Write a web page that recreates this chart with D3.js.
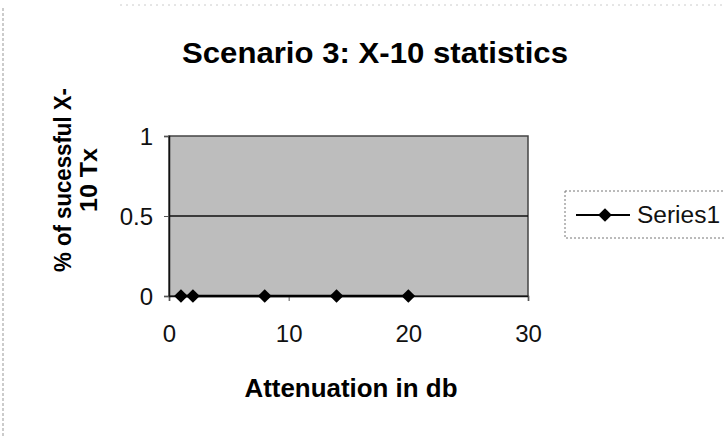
<!DOCTYPE html>
<html>
<head>
<meta charset="utf-8">
<script src="https://cdn.jsdelivr.net/npm/d3@7"></script>
<style>
  body { margin: 0; background: #fff; }
  text { font-family: "Liberation Sans", Arial, sans-serif; }
</style>
</head>
<body>
<div id="chart"></div>
<script>
// chart values
let attenuation = [1, 2, 8, 14, 20];
let success = [0, 0, 0, 0, 0];
let xTicks = [0, 10, 20, 30];
let yTicks = [0, 0.5, 1];
let seriesName = "Series1";

let svgWidth = 725;
let svgHeight = 437;

let margin = { top: 136, right: 197, bottom: 141, left: 169 };
let width = svgWidth - margin.left - margin.right;
let height = svgHeight - margin.top - margin.bottom;

let svg = d3.select("#chart")
    .append("svg")
    .attr("width", svgWidth)
    .attr("height", svgHeight);

// faint scanned frame lines
svg.append("line")
    .attr("x1", 3).attr("x2", 3).attr("y1", 8).attr("y2", svgHeight)
    .attr("stroke", "#999").attr("stroke-dasharray", "3,2");
svg.append("line")
    .attr("x1", 120).attr("x2", svgWidth).attr("y1", 5).attr("y2", 5)
    .attr("stroke", "#ccc").attr("stroke-dasharray", "2,4");

let chartGroup = svg.append("g")
    .attr("transform", `translate(${margin.left}, ${margin.top})`);

let x = d3.scaleLinear().domain([0, 30]).range([0, width]);
let y = d3.scaleLinear().domain([0, 1]).range([height, 0]);

// plot area
chartGroup.append("rect")
    .attr("width", width)
    .attr("height", height)
    .attr("fill", "#bdbdbd")
    .attr("stroke", "#444")
    .attr("stroke-width", 1.5);

// gridline at 0.5
chartGroup.append("line")
    .attr("x1", 0).attr("x2", width)
    .attr("y1", y(0.5)).attr("y2", y(0.5))
    .attr("stroke", "#111").attr("stroke-width", 1.3);

// axes
let bottomAxis = d3.axisBottom(x).tickValues(xTicks).tickSize(5).tickPadding(24);
let leftAxis = d3.axisLeft(y).tickValues(yTicks).tickSize(5).tickPadding(11)
    .tickFormat(d => d);

let xg = chartGroup.append("g")
    .attr("transform", `translate(0, ${height})`)
    .call(bottomAxis);
let yg = chartGroup.append("g").call(leftAxis);

[xg, yg].forEach(g => {
    g.select(".domain").attr("stroke", "#111").attr("stroke-width", 1.5);
    g.selectAll(".tick line").attr("stroke", "#555");
    g.selectAll(".tick text")
        .attr("font-size", 24)
        .attr("fill", "#111")
        .style("font-family", "'Liberation Sans', Arial, sans-serif");
});
yg.selectAll(".tick text").attr("dy", "0.35em");

// series line + markers
let points = attenuation.map((a, i) => ({ x: a, y: success[i] }));

chartGroup.append("path")
    .datum(points)
    .attr("fill", "none")
    .attr("stroke", "#000")
    .attr("stroke-width", 2.5)
    .attr("d", d3.line().x(d => x(d.x)).y(d => y(d.y)));

let diamond = d3.symbol().type(d3.symbolDiamond2).size(120);

chartGroup.selectAll(".pt")
    .data(points)
    .enter()
    .append("path")
    .attr("class", "pt")
    .attr("transform", d => `translate(${x(d.x)}, ${y(d.y)})`)
    .attr("d", diamond)
    .attr("fill", "#000");

// title
svg.append("text")
    .attr("x", 375).attr("y", 63)
    .attr("text-anchor", "middle")
    .attr("font-size", 30)
    .attr("font-weight", "bold")
    .attr("textLength", 386)
    .attr("lengthAdjust", "spacingAndGlyphs")
    .text("Scenario 3: X-10 statistics");

// axis titles
svg.append("text")
    .attr("x", 351).attr("y", 397)
    .attr("text-anchor", "middle")
    .attr("font-size", 25)
    .attr("font-weight", "bold")
    .attr("textLength", 213)
    .attr("lengthAdjust", "spacingAndGlyphs")
    .text("Attenuation in db");

let yLabel = svg.append("g")
    .attr("transform", "translate(0, 180) rotate(-90)");
yLabel.append("text")
    .attr("x", 0).attr("y", 71)
    .attr("text-anchor", "middle")
    .attr("font-size", 24)
    .attr("font-weight", "bold")
    .attr("textLength", 184)
    .attr("lengthAdjust", "spacingAndGlyphs")
    .text("% of sucessful X-");
yLabel.append("text")
    .attr("x", 0).attr("y", 97)
    .attr("text-anchor", "middle")
    .attr("font-size", 24)
    .attr("font-weight", "bold")
    .attr("textLength", 64)
    .attr("lengthAdjust", "spacingAndGlyphs")
    .text("10 Tx");

// legend
let legend = svg.append("g").attr("transform", "translate(565, 191)");
legend.append("rect")
    .attr("width", 170).attr("height", 47)
    .attr("fill", "#fff")
    .attr("stroke", "#777")
    .attr("stroke-dasharray", "2,2");
legend.append("line")
    .attr("x1", 11).attr("x2", 65).attr("y1", 24).attr("y2", 24)
    .attr("stroke", "#000").attr("stroke-width", 2);
legend.append("path")
    .attr("transform", "translate(40, 24)")
    .attr("d", diamond)
    .attr("fill", "#000");
legend.append("text")
    .attr("x", 72).attr("y", 32)
    .attr("font-size", 23)
    .attr("fill", "#111")
    .attr("textLength", 83)
    .attr("lengthAdjust", "spacingAndGlyphs")
    .text(seriesName);
</script>
</body>
</html>
